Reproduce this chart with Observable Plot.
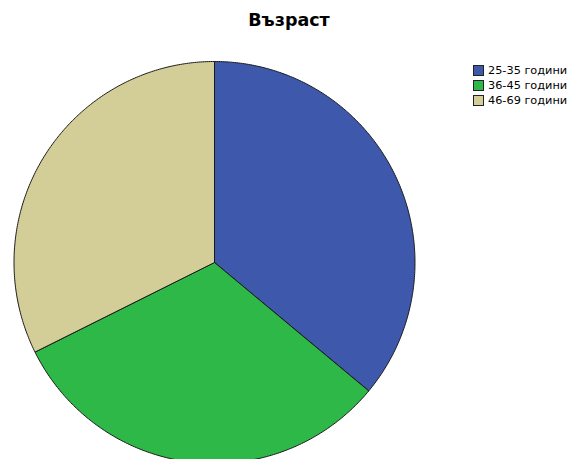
<!DOCTYPE html>
<html>
<head>
<meta charset="utf-8">
<script src="https://cdn.jsdelivr.net/npm/d3@7"></script>
<script src="https://cdn.jsdelivr.net/npm/@observablehq/plot@0.6"></script>
<style>
  html, body { margin: 0; padding: 0; background: #fff; }
  #wrap { position: relative; width: 571px; height: 459px; overflow: hidden; font-family: "DejaVu Sans", sans-serif; }
  #title { position: absolute; left: 0; top: 10px; width: 578px; text-align: center; font-weight: bold; font-size: 17.5px; color: #000; }
  #legend { position: absolute; left: 473px; top: 63px; font-size: 11.3px; color: #000; }
  .row { display: flex; align-items: center; height: 15px; }
  .sw { width: 11px; height: 11px; border: 1px solid #222; margin-right: 4px; box-sizing: border-box; }
  #chart { position: absolute; left: 0; top: 0; }
</style>
</head>
<body>
<div id="wrap">
  <div id="chart"></div>
  <div id="title"></div>
  <div id="legend"></div>
</div>
<script>
const titleText = "Възраст";
const labels = ["25-35 години", "36-45 години", "46-69 години"];
const counts = [49, 43, 44];
const colors = ["#3e58ac", "#2eb848", "#d3ce97"];

document.getElementById("title").textContent = titleText;

const data = labels.map((label, i) => ({label, value: counts[i]}));
const arcs = d3.pie().sort(null).value(d => d.value)(data);

// build closed slice outlines (centre + arc) from pie angles
const polys = [];
for (const a of arcs) {
  const steps = Math.max(2, Math.ceil((a.endAngle - a.startAngle) / 0.01));
  polys.push({label: a.data.label, x: 0, y: 0});
  for (let k = 0; k <= steps; k++) {
    const t = a.startAngle + (a.endAngle - a.startAngle) * k / steps;
    polys.push({label: a.data.label, x: Math.sin(t), y: Math.cos(t)});
  }
  polys.push({label: a.data.label, x: 0, y: 0});
}

const chart = Plot.plot({
  width: 571,
  height: 459,
  margin: 0,
  x: {domain: [-1, 1], range: [13.5, 414.5], axis: null},
  y: {domain: [-1, 1], range: [463, 61], axis: null},
  color: {domain: labels, range: colors},
  marks: [
    Plot.line(polys, {x: "x", y: "y", z: "label", fill: "label", stroke: "#1a1a1a", strokeWidth: 1, strokeLinejoin: "round"})
  ]
});
document.getElementById("chart").appendChild(chart);

const color = chart.scale("color");
const legend = document.getElementById("legend");
labels.forEach((l, i) => {
  const row = document.createElement("div");
  row.className = "row";
  const sw = document.createElement("div");
  sw.className = "sw";
  sw.style.background = color.range[i];
  const tx = document.createElement("span");
  tx.textContent = l;
  row.appendChild(sw);
  row.appendChild(tx);
  legend.appendChild(row);
});
</script>
</body>
</html>
